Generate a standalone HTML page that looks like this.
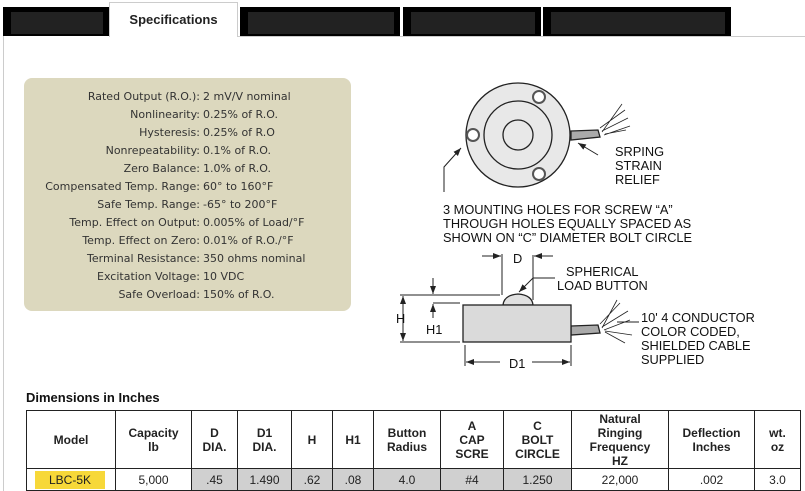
<!DOCTYPE html>
<html><head><meta charset="utf-8"><style>
body{margin:0;width:805px;height:491px;background:#fff;position:relative;overflow:hidden;font-family:"Liberation Sans",Arial,sans-serif}
.a{position:absolute}
.blk{position:absolute;background:#000}
.blk i{position:absolute;background:#222;left:8px;right:6px;top:5px;bottom:2px}
.spec{position:absolute;left:24px;top:78px;width:327px;height:233px;background:#dcd8be;border-radius:8px}
.row{position:absolute;left:0;font-family:"DejaVu Sans",Verdana,sans-serif;font-size:11px;color:#333;white-space:nowrap}
.row b{font-weight:normal;position:absolute;right:0;}
table{position:absolute;left:26px;top:410px;border-collapse:collapse;font-family:"Liberation Sans",Arial,sans-serif}
td{border:1px solid #222;text-align:center;padding:0;font-size:12px;color:#222}
th{border:1px solid #222;font-weight:bold;font-size:12px;line-height:14px;color:#222;height:57px;padding:0}
td{height:21px}
.g{background:#d0d0d0}
</style></head><body>
<div class="blk" style="left:3px;top:7px;width:106px;height:29px"><i></i></div>
<div class="a" style="left:109px;top:2px;width:127px;height:34px;border:1px solid #ccc;border-bottom:none;background:#fff;text-align:center;line-height:34px;font-size:13px;font-weight:bold;color:#222">Specifications</div>
<div class="blk" style="left:240px;top:7px;width:160px;height:29px"><i></i></div>
<div class="blk" style="left:403px;top:7px;width:138px;height:29px"><i></i></div>
<div class="blk" style="left:543px;top:7px;width:188px;height:29px"><i></i></div>
<div class="a" style="left:237px;top:36px;width:568px;height:1px;background:#ccc"></div>
<div class="a" style="left:3px;top:36px;width:1px;height:455px;background:#ccc"></div>

<div class="spec"></div>
<div class="a" style="left:0;top:90px;width:205px">
<div class="row" style="top:0;width:200px"><b>Rated Output (R.O.):</b></div>
<div class="row" style="top:18px;width:200px"><b>Nonlinearity:</b></div>
<div class="row" style="top:36px;width:200px"><b>Hysteresis:</b></div>
<div class="row" style="top:54px;width:200px"><b>Nonrepeatability:</b></div>
<div class="row" style="top:72px;width:200px"><b>Zero Balance:</b></div>
<div class="row" style="top:90px;width:200px"><b>Compensated Temp. Range:</b></div>
<div class="row" style="top:108px;width:200px"><b>Safe Temp. Range:</b></div>
<div class="row" style="top:126px;width:200px"><b>Temp. Effect on Output:</b></div>
<div class="row" style="top:144px;width:200px"><b>Temp. Effect on Zero:</b></div>
<div class="row" style="top:162px;width:200px"><b>Terminal Resistance:</b></div>
<div class="row" style="top:180px;width:200px"><b>Excitation Voltage:</b></div>
<div class="row" style="top:198px;width:200px"><b>Safe Overload:</b></div>
</div>
<div class="a" style="left:203px;top:90px">
<div class="row" style="top:0">2 mV/V nominal</div>
<div class="row" style="top:18px">0.25% of R.O.</div>
<div class="row" style="top:36px">0.25% of R.O</div>
<div class="row" style="top:54px">0.1% of R.O.</div>
<div class="row" style="top:72px">1.0% of R.O.</div>
<div class="row" style="top:90px">60° to 160°F</div>
<div class="row" style="top:108px">-65° to 200°F</div>
<div class="row" style="top:126px">0.005% of Load/°F</div>
<div class="row" style="top:144px">0.01% of R.O./°F</div>
<div class="row" style="top:162px">350 ohms nominal</div>
<div class="row" style="top:180px">10 VDC</div>
<div class="row" style="top:198px">150% of R.O.</div>
</div>

<svg class="a" style="left:0;top:0" width="805" height="491" font-family="Liberation Sans, Arial, sans-serif" font-size="12.8" fill="#111">
<defs><marker id="ar" markerWidth="8" markerHeight="6" refX="8" refY="3" orient="auto"><path d="M0,0L8,3L0,6z" fill="#222"/></marker></defs>
<g stroke="#222" stroke-width="1.3">
<path d="M571,131 L598,130 L600,137 L571,140z" fill="#aaa"/>
<path d="M600,128 L625,110 M602,131 L628,118 M604,135 L630,126 M602,132 L622,104 M605,134 L626,130" fill="none" stroke-width="0.8"/>
<circle cx="518" cy="135" r="52" fill="#e8e8e8"/>
<circle cx="518" cy="135" r="34" fill="#e8e8e8"/>
<circle cx="518" cy="135" r="15" fill="#e8e8e8"/>
<circle cx="539" cy="97" r="6" fill="#fff" stroke="#555" stroke-width="2"/>
<circle cx="473" cy="135" r="6" fill="#fff" stroke="#555" stroke-width="2"/>
<circle cx="539" cy="174" r="6" fill="#fff" stroke="#555" stroke-width="2"/>
<path d="M444,192 L444,167 L461,148" fill="none" stroke-width="1" marker-end="url(#ar)"/>
<path d="M598,155 L578,143" fill="none" stroke-width="1" marker-end="url(#ar)"/>
<path d="M571,326 L598,325 L600,333 L571,335z" fill="#aaa"/>
<path d="M600,324 L620,303 M602,327 L628,311 M604,330 L630,320 M602,328 L617,300 M605,331 L632,335 M605,332 L625,343" fill="none" stroke-width="0.8"/>
<path d="M503,305 Q504,295 518,294 Q532,295 533,305z" fill="#e0e0e0"/>
<rect x="463" y="305" width="108" height="37" fill="#dadada"/>
<g stroke-width="1" fill="none">
<path d="M502,254 L502,295 M533,255 L533,300 M400,295 L500,295 M400,342 L460,342 M433,303 L460,303 M465,345 L465,366 M571,345 L571,366"/>
<path d="M482,256 L501,256" marker-end="url(#ar)"/><path d="M553,256 L534,256" marker-end="url(#ar)"/>
<path d="M403,318 L403,296" marker-end="url(#ar)"/><path d="M403,318 L403,341" marker-end="url(#ar)"/>
<path d="M433,278 L433,294" marker-end="url(#ar)"/><path d="M433,318 L433,304" marker-end="url(#ar)"/>
<path d="M500,362 L466,362" marker-end="url(#ar)"/><path d="M532,362 L570,362" marker-end="url(#ar)"/>
<path d="M555,278 L533,278 L519,292" marker-end="url(#ar)"/>
<path d="M617,322 L639,322" stroke-width="1"/>
</g></g>
<g stroke="none">
<text x="615" y="156">SRPING</text><text x="615" y="170">STRAIN</text><text x="615" y="184">RELIEF</text>
<text x="443" y="214">3 MOUNTING HOLES FOR SCREW “A”</text>
<text x="443" y="228">THROUGH HOLES EQUALLY SPACED AS</text>
<text x="443" y="242">SHOWN ON “C” DIAMETER BOLT CIRCLE</text>
<text x="513" y="263">D</text>
<text x="566" y="276">SPHERICAL</text><text x="557" y="290">LOAD BUTTON</text>
<text x="396" y="323">H</text><text x="426" y="334">H1</text>
<text x="509" y="368">D1</text>
<text x="641" y="322">10' 4 CONDUCTOR</text><text x="641" y="336">COLOR CODED,</text>
<text x="641" y="350">SHIELDED CABLE</text><text x="641" y="364">SUPPLIED</text>
<text x="26" y="402" font-weight="bold" font-size="13">Dimensions in Inches</text>
</g>
</svg>

<table>
<tr><th style="width:88px">Model</th><th style="width:75px">Capacity<br>lb</th><th style="width:45px">D<br>DIA.</th><th style="width:53px">D1<br>DIA.</th><th style="width:40px">H</th><th style="width:40px">H1</th><th style="width:66px">Button<br>Radius</th><th style="width:62px">A<br>CAP<br>SCRE</th><th style="width:67px">C<br>BOLT<br>CIRCLE</th><th style="width:96px">Natural<br>Ringing<br>Frequency<br>HZ</th><th style="width:85px">Deflection<br>Inches</th><th style="width:45px">wt.<br>oz</th></tr>
<tr><td style="text-align:left"><span style="background:#f7d839;padding:2px 14px 2px 14px;margin-left:8px">LBC-5K</span></td><td>5,000</td><td class="g">.45</td><td class="g">1.490</td><td class="g">.62</td><td class="g">.08</td><td class="g">4.0</td><td class="g">#4</td><td class="g">1.250</td><td>22,000</td><td>.002</td><td>3.0</td></tr>
</table>
</body></html>
